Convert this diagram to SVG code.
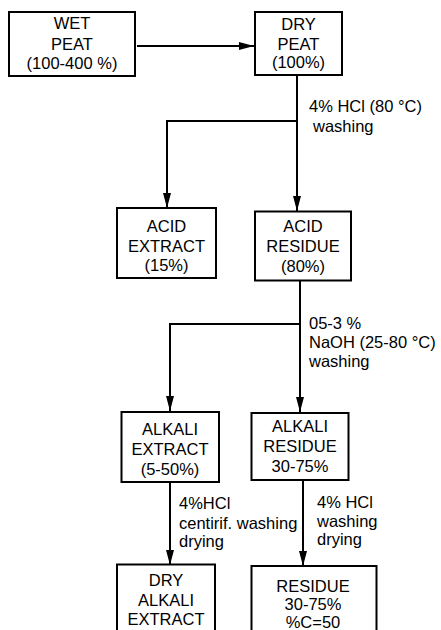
<svg xmlns="http://www.w3.org/2000/svg" width="441" height="630" viewBox="0 0 441 630">
<defs>
<style>
.box{fill:#fff;stroke:#000;stroke-width:2}
.t{font-family:"Liberation Sans",Arial,sans-serif;font-size:16.5px;fill:#000}
.c{text-anchor:middle}
.ln{fill:none;stroke:#000;stroke-width:2}
</style>
<marker id="ah" viewBox="0 0 15 8" refX="15" refY="4" markerWidth="15" markerHeight="8" markerUnits="userSpaceOnUse" orient="auto">
<path d="M0,0 L15,4 L0,8 Z" fill="#000"/>
</marker>
</defs>
<rect width="441" height="630" fill="#fff"/>
<g id="connectors">
<path class="ln" d="M137,46 H254" marker-end="url(#ah)"/>
<path class="ln" d="M297,75 V211"  marker-end="url(#ah)"/>
<path class="ln" d="M297,121 H167 V208" marker-end="url(#ah)"/>
<path class="ln" d="M300,281 V412" marker-end="url(#ah)"/>
<path class="ln" d="M300,324 H170 V411" marker-end="url(#ah)"/>
<path class="ln" d="M170,482 V565" marker-end="url(#ah)"/>
<path class="ln" d="M303,480 V566" marker-end="url(#ah)"/>
</g>
<g id="labels" class="t">
<text x="309" y="112">4% HCl (80 °C)</text>
<text x="313" y="132">washing</text>
<text x="309" y="329">05-3 %</text>
<text x="309" y="348">NaOH (25-80 °C)</text>
<text x="309" y="367">washing</text>
<text x="179" y="509">4%HCl</text>
<text x="179" y="528.5">centirif. washing</text>
<text x="179" y="547">drying</text>
<text x="317" y="508">4% HCl</text>
<text x="317" y="527">washing</text>
<text x="317" y="545">drying</text>
</g>
<g id="wet-peat">
<rect class="box" x="9" y="12" width="126" height="64"/>
<text class="t c" x="72" y="29">WET</text>
<text class="t c" x="72" y="50">PEAT</text>
<text class="t c" x="72" y="69">(100-400 %)</text>
</g>
<g id="dry-peat">
<rect class="box" x="255" y="12" width="87" height="63"/>
<text class="t c" x="298.5" y="30">DRY</text>
<text class="t c" x="298.5" y="50">PEAT</text>
<text class="t c" x="298.5" y="68">(100%)</text>
</g>
<g id="acid-extract">
<rect class="box" x="117" y="208" width="99" height="70"/>
<text class="t c" x="166.5" y="232">ACID</text>
<text class="t c" x="166.5" y="252">EXTRACT</text>
<text class="t c" x="166.5" y="271">(15%)</text>
</g>
<g id="acid-residue">
<rect class="box" x="255" y="211.5" width="96" height="69"/>
<text class="t c" x="303" y="232">ACID</text>
<text class="t c" x="303" y="252">RESIDUE</text>
<text class="t c" x="303" y="271.5">(80%)</text>
</g>
<g id="alkali-extract">
<rect class="box" x="121.5" y="412" width="97.5" height="70"/>
<text class="t c" x="170" y="435">ALKALI</text>
<text class="t c" x="170" y="455">EXTRACT</text>
<text class="t c" x="170" y="475">(5-50%)</text>
</g>
<g id="alkali-residue">
<rect class="box" x="251.5" y="413" width="97" height="67"/>
<text class="t c" x="300" y="431.5">ALKALI</text>
<text class="t c" x="300" y="452">RESIDUE</text>
<text class="t c" x="300" y="471.5">30-75%</text>
</g>
<g id="dry-alkali-extract">
<rect class="box" x="117" y="564.5" width="98" height="80"/>
<text class="t c" x="166" y="586">DRY</text>
<text class="t c" x="166" y="606">ALKALI</text>
<text class="t c" x="166" y="625">EXTRACT</text>
</g>
<g id="residue">
<rect class="box" x="251.5" y="566" width="125" height="80"/>
<text class="t c" x="313" y="592">RESIDUE</text>
<text class="t c" x="313" y="610">30-75%</text>
<text class="t c" x="313" y="628">%C=50</text>
</g>
</svg>
